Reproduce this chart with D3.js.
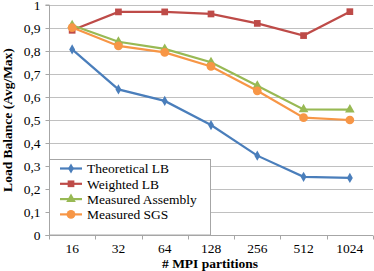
<!DOCTYPE html>
<html><head><meta charset="utf-8">
<script src="https://cdn.jsdelivr.net/npm/d3@7"></script>
<style>body{margin:0;background:#fff}svg{display:block}svg text{font-family:'Liberation Serif';}</style>
</head><body>
<svg id="c" width="374" height="271"></svg>
<script>
const categories = ["16","32","64","128","256","512","1024"];
const yTicks = [0,0.1,0.2,0.3,0.4,0.5,0.6,0.7,0.8,0.9,1];
const theoreticalLB = [0.807,0.633,0.583,0.478,0.345,0.253,0.248];
const weightedLB = [0.89,0.97,0.97,0.961,0.92,0.867,0.971];
const measuredAssembly = [0.912,0.84,0.809,0.751,0.649,0.546,0.545];
const measuredSGS = [0.902,0.822,0.794,0.733,0.627,0.51,0.5];
const seriesNames = ["Theoretical LB","Weighted LB","Measured Assembly","Measured SGS"];
const seriesColors = ["#4a7ebb","#be4b48","#98b954","#f79646"];
const seriesShapes = [d3.symbolDiamond, d3.symbolSquare, d3.symbolTriangle, d3.symbolCircle];
const seriesSizes = [30, 45, 40, 60];
const seriesValues = [theoreticalLB, weightedLB, measuredAssembly, measuredSGS];

const svg = d3.select("#c");
const L=49, R=373, T=5, B=235;
const x = d3.scaleBand().domain(categories).range([L,R]);
const y = d3.scaleLinear().domain([0,1]).range([B,T]);
const font = "Liberation Serif";
const fs = 13.5;

// gridlines
svg.append("g").selectAll("line").data(yTicks.filter(d=>d>0)).join("line")
  .attr("x1",L).attr("x2",R).attr("y1",d=>y(d)+0.5).attr("y2",d=>y(d)+0.5)
  .attr("stroke","#c0c0c0").attr("stroke-width",1);

// y axis
const ya = svg.append("g").attr("transform",`translate(${L+0.5},0)`)
  .call(d3.axisLeft(y).tickValues(yTicks).tickFormat(d=>d3.format(".1~f")(d).replace(".",",")).tickSize(4).tickPadding(5));
ya.attr("font-family",font).attr("font-size",fs);
ya.select(".domain").attr("stroke","#a6a6a6").attr("d",`M-4,${T}H0V${B+0.5}H-4`);
ya.selectAll(".tick line").attr("stroke","#a6a6a6");
ya.selectAll("text").attr("fill","#000");

// x axis
const xa = svg.append("g").attr("transform",`translate(0,${B+0.5})`)
  .call(d3.axisBottom(x).tickSize(0).tickPadding(8));
xa.attr("font-family",font).attr("font-size",fs);
xa.select(".domain").attr("stroke","#a6a6a6").attr("d",`M${L},0H${R}`);
xa.selectAll("text").attr("fill","#000");
xa.append("g").selectAll("line").data(categories.map(c=>x(c)).concat([R])).join("line")
  .attr("x1",d=>Math.round(d)+0.5).attr("x2",d=>Math.round(d)+0.5).attr("y1",0).attr("y2",4)
  .attr("stroke","#a6a6a6");

// series
const line = d3.line().x((d,i)=>x(categories[i])+x.bandwidth()/2).y(d=>y(d));
seriesValues.forEach((vals,s)=>{
  const g = svg.append("g");
  g.append("path").attr("d",line(vals)).attr("fill","none").attr("stroke",seriesColors[s]).attr("stroke-width",2.2);
  g.selectAll("path.m").data(vals).join("path").attr("class","m")
    .attr("transform",(d,i)=>`translate(${x(categories[i])+x.bandwidth()/2},${y(d)})`)
    .attr("d",d3.symbol().type(seriesShapes[s]).size(seriesSizes[s]))
    .attr("fill",seriesColors[s]);
});

// legend
const lg = svg.append("g").attr("font-family",font).attr("font-size",fs);
lg.append("rect").attr("x",L+0.5).attr("y",159.5).attr("width",161).attr("height",B-159.5)
  .attr("fill","#fff").attr("stroke","#a6a6a6");
seriesNames.forEach((n,s)=>{
  const yy = 168.5 + s*15.3;
  lg.append("line").attr("x1",60).attr("x2",82).attr("y1",yy).attr("y2",yy)
    .attr("stroke",seriesColors[s]).attr("stroke-width",2.2);
  lg.append("path").attr("transform",`translate(71,${yy})`)
    .attr("d",d3.symbol().type(seriesShapes[s]).size(seriesSizes[s])).attr("fill",seriesColors[s]);
  lg.append("text").attr("x",87).attr("y",yy).attr("dy","0.35em").text(n).attr("fill","#000");
});

// axis titles
svg.append("text").attr("x",(L+R)/2-1).attr("y",268).attr("text-anchor","middle")
  .attr("font-family",font).attr("font-weight","bold").attr("font-size",fs).text("# MPI partitions");
svg.append("text").attr("transform",`translate(12,${(T+B)/2}) rotate(-90)`).attr("text-anchor","middle")
  .attr("font-family",font).attr("font-weight","bold").attr("font-size",fs).text("Load Balance (Avg/Max)");
</script>
</body></html>
